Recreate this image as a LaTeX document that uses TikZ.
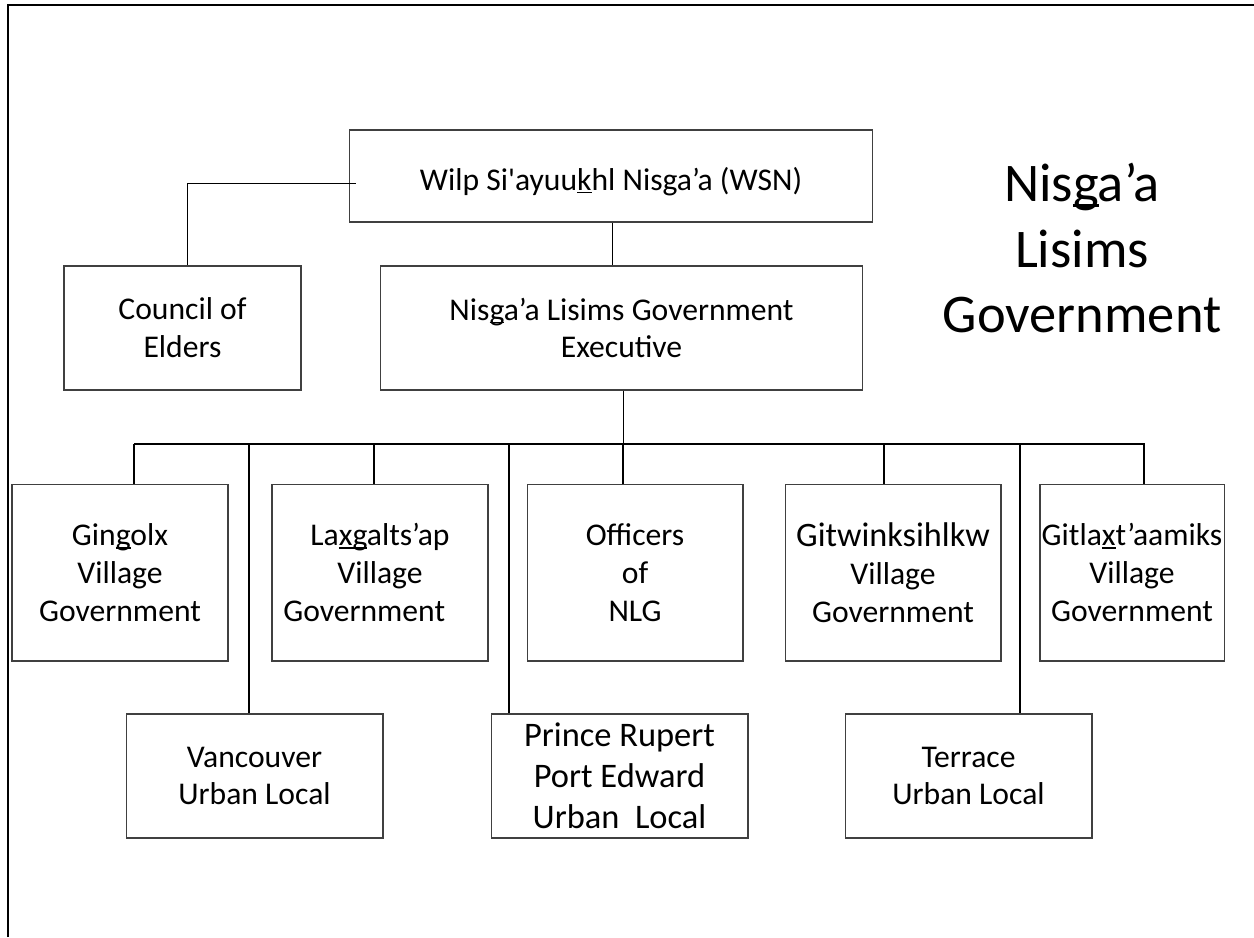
\documentclass[tikz,border=0pt]{standalone}
\usepackage{fontspec}
\setmainfont{Carlito}[Ligatures=TeXOff]
\usetikzlibrary{positioning,calc}

% underline that sits just under the baseline
\newcommand\undl[1]{\setbox0\hbox{#1}\rlap{\rule[-0.1em]{\wd0}{0.05em}}#1}

\begin{document}
\begin{tikzpicture}[x=0.02cm,y=-0.02cm,
        unitbox/.style={draw=black!75, line width=0.6pt, align=center, inner sep=1pt,
            font=\fontsize{18}{21.5}\selectfont},
        link/.style={draw=black, line width=0.6pt}]

                % Page size and frame
                \useasboundingbox (0,0) rectangle (1254,937);
                \draw[line width=1.2pt] (8,937) -- (8,5) -- (1254,5);

                % Top level
                \node[unitbox, minimum width=10.48cm, minimum height=1.84cm,
                    text height=21pt, text depth=5pt] (wsn) at (611,176)
                    {Wilp Si'ayuu\undl{k}hl Nisga’a (WSN)};
                \node[unitbox, minimum width=4.74cm, minimum height=2.48cm] (council) at (182.5,328)
                    {Council of\\Elders};
                \node[unitbox, minimum width=9.66cm, minimum height=2.48cm] (exec) at (621.5,328)
                    {Nis\undl{g}a’a Lisims Government\\Executive};

                % Villages and officers
                \node[unitbox, minimum width=4.32cm, minimum height=3.54cm] (gingolx) at (120,572.5)
                    {Gin\undl{g}olx\\Village\\Government};
                \node[unitbox, minimum width=4.32cm, minimum height=3.54cm] (laxgaltsap) at (380,572.5)
                    {La\undl{xg}alts’ap\\Village\\Government\hspace*{1em}};
                \node[unitbox, minimum width=4.32cm, minimum height=3.54cm] (officers) at (635,572.5)
                    {Officers\\of\\NLG};
                \node[unitbox, minimum width=4.32cm, minimum height=3.54cm] (gitwink) at (893,572.5)
                    {{\fontsize{19.5}{21}\selectfont Gitwinksihlkw}\\Village\\Government};
                \node[unitbox, minimum width=3.68cm, minimum height=3.54cm] (gitlax) at (1132,572.5)
                    {Gitla\undl{x}t’aamiks\\Village\\Government};

                % Urban locals
                \node[unitbox, minimum width=5.14cm, minimum height=2.48cm] (vancouver) at (254.5,776)
                    {Vancouver\\Urban Local};
                \node[unitbox, minimum width=5.14cm, minimum height=2.48cm,
                    font=\fontsize{19.6}{23.3}\selectfont] (rupert) at (619.5,776)
                    {Prince Rupert\\Port Edward\\Urban~~Local};
                \node[unitbox, minimum width=4.94cm, minimum height=2.48cm] (terrace) at (968.5,776)
                    {Terrace\\Urban Local};

                % Title
                \node[align=center, font=\fontsize{31}{37.5}\selectfont] (title) at (1082,248)
                    {Nis\undl{g}a’a\\Lisims\\Government};

                % Bus under the executive
                \coordinate (busL) at (134,444);
                \coordinate (busR) at (1145,444);

                % Connectors
                \draw[link] ([xshift=4pt,yshift=-4pt]wsn.west) -| ([xshift=3pt]council.north);
                \draw[link] ([xshift=1pt]wsn.south) -- ([xshift=1pt]wsn.south |- exec.north);
                \draw[link] ([xshift=1pt]exec.south) -- ([xshift=1pt]exec.south |- busL);
                \draw[link] (busL) -- (busR);
                \foreach \n/\x in {gingolx/134, laxgaltsap/374, officers/623, gitwink/884, gitlax/1144} {
                    \draw[link] (\x,444) -- (\x,444 |- \n.north);
                }
                \foreach \n/\x in {vancouver/249, rupert/509, terrace/1020} {
                    \draw[link] (\x,444) -- (\x,444 |- \n.north);
                }
            \end{tikzpicture}
\end{document}
